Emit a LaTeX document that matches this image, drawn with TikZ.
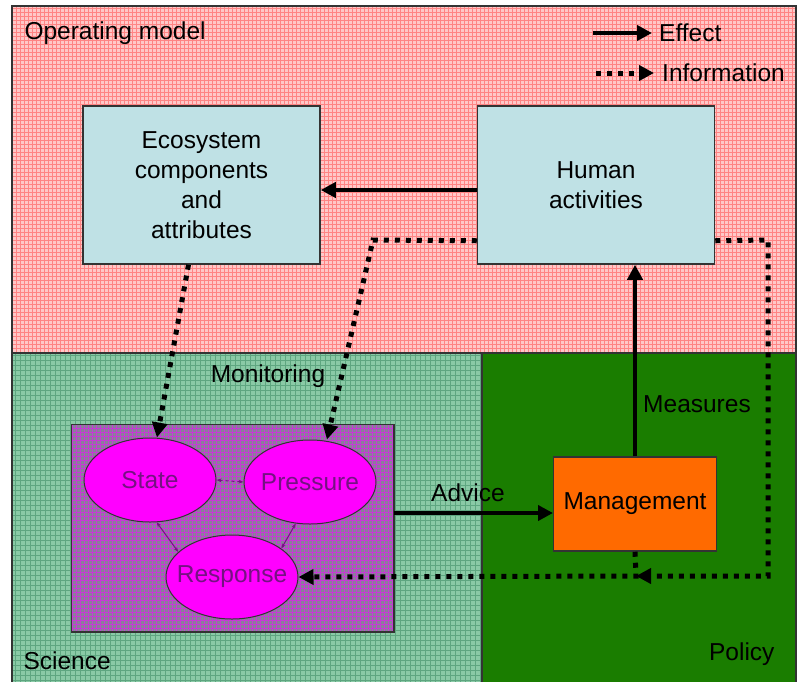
\documentclass[tikz,border=0pt]{standalone}
\usepackage{fontspec}
\setmainfont{Liberation Sans}
\usetikzlibrary{arrows.meta,shapes.geometric}
\definecolor{pinkbg}{HTML}{FFC8C8}
\definecolor{pinkline}{HTML}{FF8484}
\definecolor{scibg}{HTML}{8ACAA6}
\definecolor{sciline}{HTML}{5EA680}
\definecolor{policybg}{HTML}{1A7D00}
\definecolor{prsbg}{HTML}{8A7E9A}
\definecolor{prsline}{HTML}{C63AD6}
\definecolor{boxblue}{HTML}{BFE1E5}
\definecolor{mgmtorange}{HTML}{FF6A00}
\definecolor{ellmag}{HTML}{FF00FF}
\definecolor{prstext}{HTML}{751282}
\begin{document}
\begin{tikzpicture}[x=1pt,y=-1pt,
  font=\fontsize{24.5}{30}\selectfont,
  frame/.style={draw=black!80,line width=1.5pt},
  box/.style={frame,fill=boxblue,align=center,minimum width=237pt,minimum height=158pt,inner sep=0pt},
  prs/.style={draw=black!80,line width=1pt,ellipse,fill=ellmag,text=prstext,minimum width=132pt,minimum height=84pt,inner sep=-12pt},
  effect/.style={line width=4pt,-{Triangle[length=15pt,width=15pt]}},
  info/.style={line width=5pt,dash pattern=on 5pt off 6pt,-{Triangle[length=15pt,width=15pt]}},
  link/.style={prstext,line width=1pt,{Stealth[length=5pt]}-{Stealth[length=5pt]}}]
  \useasboundingbox (0,0) rectangle (800,681);
  \fill[pinkbg] (12,6) rectangle (796,353);
  \draw[pinkline,line width=1pt,step=4pt] (12,353) grid (796,6);
  \fill[scibg] (12,353) rectangle (482,686);
  \draw[sciline,line width=1pt,step=5pt] (12,686) grid (482,353);
  \fill[policybg] (482,353) rectangle (796,686);
  \draw[frame] (12,686) -- (12,6) -- (796,6) -- (796,686);
  \draw[frame] (12,353) -- (796,353);
  \draw[frame] (482,353) -- (482,686);
  \node[anchor=west] (opm) at (21,33) {Operating model};
  \node[anchor=west] (sci) at (20,661) {Science};
  \node[anchor=east] (pol) at (778,654) {Policy};
  \node (mon) at (268,376) {Monitoring};
  \coordinate (eff1) at (593,33);
  \coordinate (eff2) at (652,33);
  \coordinate (inf1) at (596,73);
  \coordinate (inf2) at (654,73);
  \node[anchor=west,inner sep=0pt] (efftxt) at (659,33) {Effect};
  \node[anchor=west,inner sep=0pt] (inftxt) at (662,73) {Information};
  \draw[effect] (eff1) -- (eff2);
  \draw[info] (inf1) -- (inf2);
  \node[box] (eco) at (201.5,185) {Ecosystem\\components\\and\\attributes};
  \node[box] (hum) at (596,185) {Human\\activities};
  \node[frame,fill=mgmtorange,minimum width=163pt,minimum height=94pt,inner sep=0pt] (mgmt) at (635,504) {Management};
  \node[draw=black!80,line width=1.5pt,minimum width=321pt,minimum height=206pt,inner sep=0pt] (dpsr) at (232.5,528) {};
  \fill[prsbg] (dpsr.south west) rectangle (dpsr.north east);
  \draw[prsline,line width=0.6pt,step=4pt] (dpsr.south west) grid (dpsr.north east);
  \draw[draw=black!80,line width=1.5pt] (dpsr.south west) rectangle (dpsr.north east);
  \node[prs] (state) at (150,480) {State};
  \node[prs] (pres) at (310,482) {Pressure};
  \node[prs] (resp) at (232,577) {Response};
  \draw[link,dashed] (state.east) -- (pres.west);
  \draw[link] (state.-81) -- (resp.155);
  \draw[link] (pres.-109) -- (resp.30);
  \coordinate (adv) at (553,513);
  \coordinate (lt) at (373,240);
  \coordinate (rt) at (768,240);
  \coordinate (rb) at (768,576);
  \coordinate (mb) at (636,576);
  \draw[effect] ([yshift=-5pt]hum.west) -- ([yshift=-5pt]eco.east);
  \draw[effect] (mgmt.north) -- (mgmt.north |- hum.south);
  \draw[effect] (dpsr.east |- adv) -- (adv);
  \node (advtxt) at (468,493) {Advice};
  \node (meastxt) at (697,404) {Measures};
  \draw[info] ([xshift=-13pt]eco.south) -- ([xshift=7pt]state.north);
  \draw[info] ([yshift=24pt]hum.south west) -- (lt) -- ([xshift=17pt]pres.north);
  \draw[info] ([yshift=24pt]hum.south east) -- (rt) -- (rb) -- (mb);
  \draw[info] (mgmt.south) -- (mb) -- (resp.east);
\end{tikzpicture}
\end{document}
